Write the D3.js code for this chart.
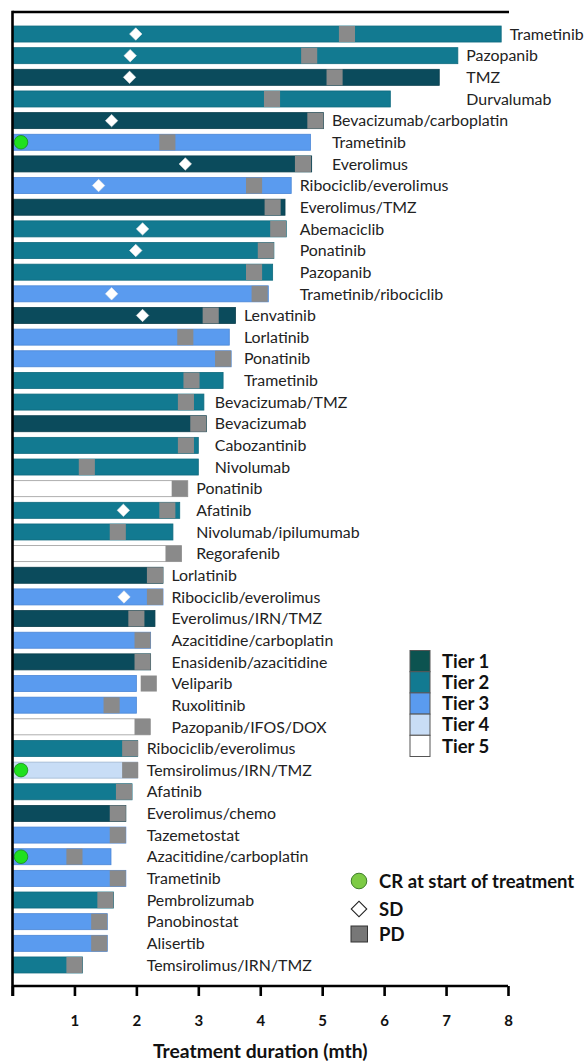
<!DOCTYPE html>
<html>
<head>
<meta charset="utf-8">
<script src="https://cdn.jsdelivr.net/npm/d3@7"></script>
<style>
html,body{margin:0;padding:0;background:#fff;}
svg{display:block;}
</style>
</head>
<body>
<svg id="chart" width="585" height="1061"></svg>
<script>
// ---------------- data ----------------
const drugs = ["Trametinib","Pazopanib","TMZ","Durvalumab","Bevacizumab/carboplatin","Trametinib","Everolimus","Ribociclib/everolimus","Everolimus/TMZ","Abemaciclib","Ponatinib","Pazopanib","Trametinib/ribociclib","Lenvatinib","Lorlatinib","Ponatinib","Trametinib","Bevacizumab/TMZ","Bevacizumab","Cabozantinib","Nivolumab","Ponatinib","Afatinib","Nivolumab/ipilumumab","Regorafenib","Lorlatinib","Ribociclib/everolimus","Everolimus/IRN/TMZ","Azacitidine/carboplatin","Enasidenib/azacitidine","Veliparib","Ruxolitinib","Pazopanib/IFOS/DOX","Ribociclib/everolimus","Temsirolimus/IRN/TMZ","Afatinib","Everolimus/chemo","Tazemetostat","Azacitidine/carboplatin","Trametinib","Pembrolizumab","Panobinostat","Alisertib","Temsirolimus/IRN/TMZ"];
const tiers = [2,2,1,2,1,3,1,3,1,2,2,2,3,1,3,3,2,2,1,2,2,5,2,2,5,1,3,1,3,1,3,3,5,2,4,2,1,3,3,3,2,3,3,2];
const durations = [7.89,7.19,6.89,6.10,5.02,4.81,4.83,4.50,4.40,4.42,4.22,4.20,4.13,3.60,3.50,3.53,3.40,3.09,3.13,3.00,3.00,2.83,2.70,2.59,2.73,2.43,2.43,2.30,2.23,2.23,2.00,2.00,2.22,2.02,2.02,1.93,1.83,1.83,1.59,1.83,1.63,1.53,1.53,1.13];
const pdTimes = [5.40,4.79,5.20,4.19,4.89,2.50,4.69,3.90,4.20,4.29,4.09,3.90,3.99,3.20,2.79,3.40,2.89,2.80,3.00,2.80,1.20,2.70,2.50,1.70,2.60,2.30,2.30,2.00,2.10,2.10,2.20,1.60,2.10,1.90,1.90,1.80,1.70,1.70,1.00,1.70,1.50,1.40,1.40,1.00];
const sdTimes = [1.99,1.90,1.89,null,1.60,null,2.79,1.39,null,2.10,1.99,null,1.60,2.10,null,null,null,null,null,null,null,null,1.79,null,null,null,1.80,null,null,null,null,null,null,null,null,null,null,null,null,null,null,null,null,null];
const crAtStart = [0,0,0,0,0,1,0,0,0,0,0,0,0,0,0,0,0,0,0,0,0,0,0,0,0,0,0,0,0,0,0,0,0,0,1,0,0,0,1,0,0,0,0,0];
// label columns: index of first row of each aligned label group
const labelGroupStarts = [0,1,4,7,13,17,21,25,33];
const xTicks = [0,1,2,3,4,5,6,7,8];
const tierNames = ["Tier 1","Tier 2","Tier 3","Tier 4","Tier 5"];
const responseNames = ["CR at start of treatment","SD","PD"];
const axisTitle = "Treatment duration (mth)";

// ---------------- styles ----------------
const tierColors = {1:"#0b4b5c",2:"#127a91",3:"#5a9bef",4:"#c8ddf6",5:"#ffffff"};
const tierStroke = {1:"#0a3f4d",2:"#0f6a7e",3:"#4a86d6",4:"#9fb6d0",5:"#9a9a9a"};
const pdColor = "#8a8a8a";
const PD_W = 0.26; // months

const svg = d3.select("#chart");
const x = d3.scaleLinear().domain([0,8]).range([12.5,508]);
const y = d3.scaleBand().domain(d3.range(drugs.length)).range([23.2,975.8]).paddingInner(0.26).paddingOuter(0.13);
const bh = y.bandwidth();

// bars
const rows = svg.append("g").selectAll("g").data(d3.range(drugs.length)).join("g");
rows.append("rect")
  .attr("x", x(0))
  .attr("y", i => y(i))
  .attr("width", i => x(durations[i]) - x(0))
  .attr("height", bh)
  .attr("fill", i => tierColors[tiers[i]])
  .attr("stroke", i => tierStroke[tiers[i]])
  .attr("stroke-width", 0.8);

// PD blocks
rows.append("rect")
  .attr("x", i => x(pdTimes[i] - PD_W/2))
  .attr("y", i => y(i))
  .attr("width", x(PD_W) - x(0))
  .attr("height", bh)
  .attr("fill", pdColor);

// SD diamonds
const diamond = d3.symbol().type(d3.symbolSquare).size(78);
rows.filter(i => sdTimes[i] != null).append("path")
  .attr("d", diamond)
  .attr("transform", i => `translate(${x(sdTimes[i])},${y(i)+bh/2}) rotate(45)`)
  .attr("fill", "#fff")
  .attr("stroke", "#e8e8e8")
  .attr("stroke-width", 0.5);

// CR circles
rows.filter(i => crAtStart[i]).append("circle")
  .attr("cx", x(0) + 8.5)
  .attr("cy", i => y(i) + bh/2)
  .attr("r", 6.8)
  .attr("fill", "#1fe01f")
  .attr("stroke", "#1a8a1a")
  .attr("stroke-width", 0.8);

// labels: aligned per group
const groupOf = i => d3.bisectRight(labelGroupStarts, i) - 1;
const groupEnd = labelGroupStarts.map((s, g) => {
  const e = g + 1 < labelGroupStarts.length ? labelGroupStarts[g+1] : drugs.length;
  return d3.max(d3.range(s, e), i => Math.max(durations[i], pdTimes[i] + PD_W/2));
});
rows.append("text")
  .attr("x", i => x(groupEnd[groupOf(i)]) + 8.5)
  .attr("y", i => y(i) + bh/2)
  .attr("dy", "0.36em")
  .attr("font-family", "Lato, 'Open Sans', sans-serif")
  .attr("font-size", 15.9)
  .attr("fill", "#222")
  .text(i => drugs[i]);

// frame: top and left lines
svg.append("line").attr("x1", x(0)).attr("x2", x(8)+1).attr("y1", 12).attr("y2", 12)
  .attr("stroke", "#000").attr("stroke-width", 2.6);
svg.append("line").attr("x1", x(0)).attr("x2", x(0)).attr("y1", 10.7).attr("y2", 996)
  .attr("stroke", "#000").attr("stroke-width", 2.6);

// x axis
const xAxis = d3.axisBottom(x).tickValues(xTicks).tickSize(10).tickPadding(19)
  .tickFormat(d => d === 0 ? "" : d);
const ax = svg.append("g").attr("transform", "translate(0,986)").call(xAxis);
ax.select(".domain").attr("stroke", "#000").attr("stroke-width", 2.6).attr("d", `M${x(0)},0H${x(8)}`);
ax.selectAll(".tick line").attr("stroke", "#000").attr("stroke-width", 2.6);
ax.selectAll(".tick text").attr("font-family", "Lato, sans-serif").attr("font-weight", "bold")
  .attr("font-size", 15).attr("fill", "#111");

svg.append("text").attr("x", (x(0)+x(8))/2).attr("y", 1058)
  .attr("text-anchor", "middle").attr("font-family", "Lato, sans-serif").attr("font-weight", "bold")
  .attr("font-size", 19.3).attr("fill", "#111").text(axisTitle);

// tier legend
const lg = svg.append("g");
const lgX = 410, lgY = 650.5, lgH = 21.2;
tierNames.forEach((t, k) => {
  lg.append("rect").attr("x", lgX).attr("y", lgY + k*lgH).attr("width", 20).attr("height", lgH)
    .attr("fill", k === 0 ? "#0c5350" : tierColors[k+1]).attr("stroke", "#555").attr("stroke-width", 1);
  lg.append("text").attr("x", 442).attr("y", lgY + k*lgH + lgH/2).attr("dy", "0.36em")
    .attr("font-family", "Lato, sans-serif").attr("font-weight", "bold").attr("font-size", 18.5)
    .attr("fill", "#111").text(t);
});

// response legend
const rg = svg.append("g");
const rY = [881, 909, 934];
rg.append("circle").attr("cx", 359).attr("cy", rY[0]).attr("r", 7.8)
  .attr("fill", "#7dcb45").attr("stroke", "#3f7f2a").attr("stroke-width", 1);
rg.append("path").attr("d", d3.symbol().type(d3.symbolSquare).size(120))
  .attr("transform", `translate(359,${rY[1]}) rotate(45)`)
  .attr("fill", "#fff").attr("stroke", "#222").attr("stroke-width", 1.1);
rg.append("rect").attr("x", 351).attr("y", rY[2]-8).attr("width", 16.5).attr("height", 16)
  .attr("fill", "#777").attr("stroke", "#333").attr("stroke-width", 1);
responseNames.forEach((t, k) => {
  rg.append("text").attr("x", 379).attr("y", rY[k]).attr("dy", "0.36em")
    .attr("font-family", "Lato, sans-serif").attr("font-weight", "bold").attr("font-size", 18.5)
    .attr("fill", "#111").text(t);
});
</script>
</body>
</html>
